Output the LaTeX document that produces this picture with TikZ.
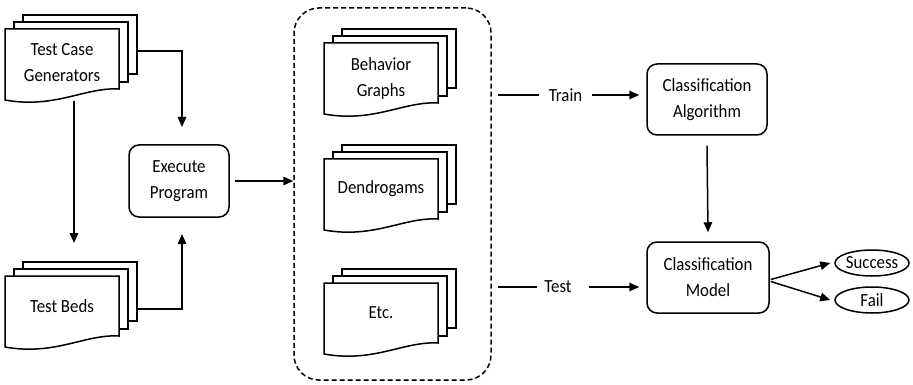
\documentclass[tikz,border=0pt]{standalone}
\usepackage{fontspec}
\setmainfont{Carlito}
\newfontfamily\lblfont{Carlito}[FakeStretch=0.91]
\usetikzlibrary{arrows.meta,calc,shapes.geometric}
\tikzset{
  lw/.style={line width=1.5pt},
  sheet/.style={draw=black,fill=white,lw,line join=miter},
  txt/.style={font=\lblfont\fontsize{18.5}{26}\selectfont},
  lbl/.style={txt,align=center,inner sep=0pt},
  procbox/.style={draw=black,lw,rounded corners=10pt,txt,align=center,inner sep=0pt},
  outbox/.style={draw=black,lw,ellipse,txt,inner sep=0pt},
  arr/.style={lw,-{Triangle[length=10pt,width=8.5pt]}},
  plain/.style={lw},
}
\newcommand\docstack[5]{% name, x, y, text, text offset
  \draw[sheet] (#2+18,#3-14) rectangle (#2+132,#3+45);
  \draw[sheet] (#2+9,#3-7) rectangle (#2+123,#3+53);
  \draw[sheet] (#2,#3) -- (#2+114,#3) -- (#2+114,#3+60)
     .. controls (#2+80,#3+58) and (#2+50,#3+80) .. (#2,#3+71) -- cycle;
  \node[inner sep=0pt,minimum width=114pt,minimum height=59pt,anchor=north west] (#1-back) at (#2+18,#3-14) {};
  \node[lbl] (#1) at (#2+57,#3+#5) {#4};
}
\begin{document}
\begin{tikzpicture}[x=1pt,y=-1pt]
\useasboundingbox (0,0) rectangle (913,385);
% container
\node[draw=black,lw,dash pattern=on 5pt off 3pt,rounded corners=25pt,
      minimum width=197pt,minimum height=372pt,inner sep=0pt] (cont) at (392.5,194) {};
% stacks
\docstack{tcg}{5}{29}{Test Case\\Generators}{34}
\docstack{tb}{5}{276}{Test Beds}{30}
\docstack{bg}{324}{43}{Behavior\\Graphs}{36}
\docstack{dg}{324}{159}{Dendrogams}{30}
\docstack{etc}{324}{283}{Etc.}{30}
% boxes
\node[procbox,minimum width=100pt,minimum height=72pt] (exec) at (179,181) {Execute\\Program};
\node[procbox,minimum width=120pt,minimum height=71pt] (alg) at (707,99.5) {Classification\\Algorithm};
\node[procbox,minimum width=122pt,minimum height=71pt] (model) at (708,277.5) {Classification\\Model};
\node[outbox,minimum width=74pt,minimum height=26pt] (succ) at (872,263) {Success};
\node[outbox,minimum width=74pt,minimum height=26pt] (fail) at (872,300) {Fail};
% labels
\node[lbl] (train) at (565.5,95) {Train};
\node[lbl] (test) at (558,287) {Test};
% helper coordinates
\coordinate (c1) at (182,51);
\coordinate (c1tip) at (182,127);
\coordinate (c2) at (182,309);
\coordinate (c2tip) at (182,234);
\coordinate (tcgbot) at (74,101);
\coordinate (tbtip) at (74,243);
% connectors
\draw[arr] (tcg-back.east |- c1) -- (c1) -- (c1tip);
\draw[arr] (tb-back.east |- c2) -- (c2) -- (c2tip);
\draw[arr] (tcgbot) -- (tbtip);
\draw[arr] ([xshift=5pt]exec.east) -- (cont.west |- exec.east);
\draw[plain] ([xshift=6pt]cont.east |- train) -- ([xshift=-10pt]train.west);
\draw[arr] ([xshift=10pt]train.east) -- ([xshift=-7pt]alg.west |- train);
\draw[plain] ([xshift=6pt]cont.east |- test) -- ([xshift=-7pt]test.west);
\draw[arr] ([xshift=17pt]test.east) -- ([xshift=-7pt]model.west |- test);
\draw[arr] ([yshift=-10pt]alg.south) -- ([yshift=9pt]model.north);
\draw[arr] ($(model.east)+(1,2)$) -- ([xshift=-4pt]succ.west);
\draw[arr] ($(model.east)+(1,4)$) -- ([xshift=-4pt]fail.west);
\end{tikzpicture}
\end{document}
